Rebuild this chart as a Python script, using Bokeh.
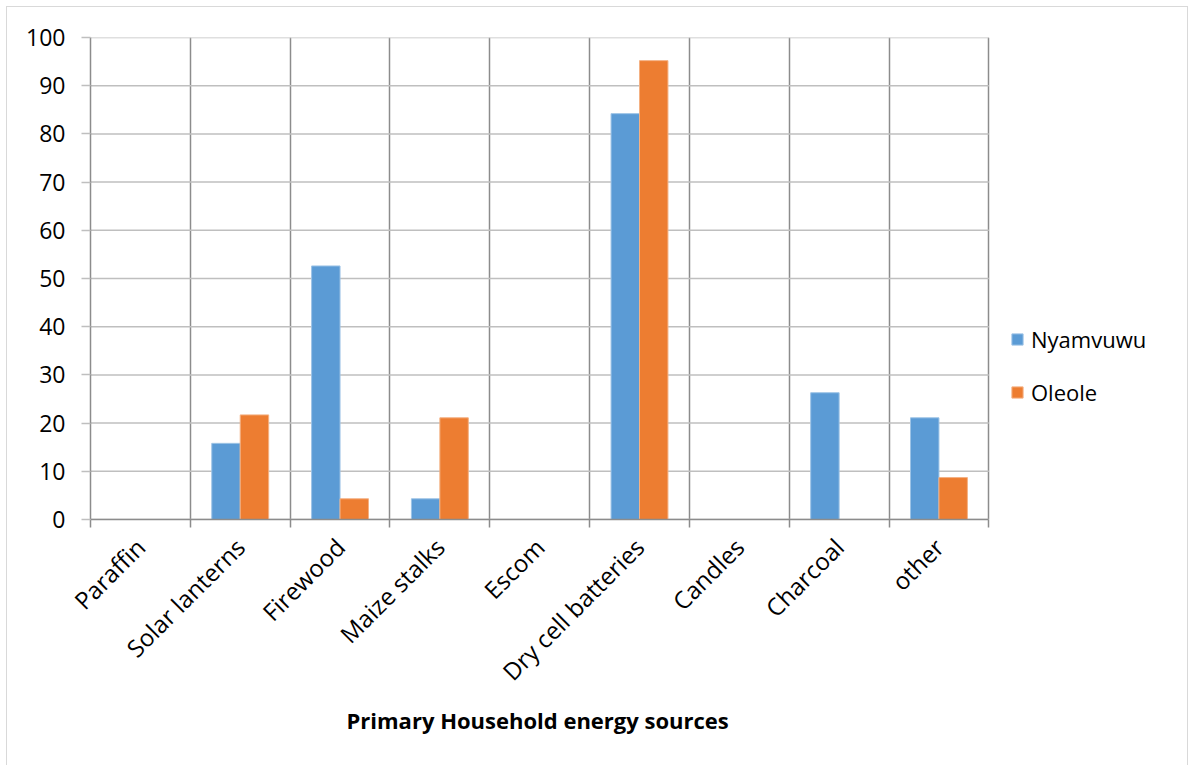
import math
from bokeh.plotting import figure
from bokeh.models import (ColumnDataSource, FixedTicker, Legend, LegendItem,
                          Range1d, Title)
from bokeh.embed import file_html
from bokeh.resources import INLINE

# Primary household energy sources (%) by village
categories = ["Paraffin", "Solar lanterns", "Firewood", "Maize stalks", "Escom",
              "Dry cell batteries", "Candles", "Charcoal", "other"]
nyamvuwu = [0, 15.8, 52.6, 4.3, 0, 84.2, 0, 26.3, 21.1]
oleole = [0, 21.7, 4.3, 21.1, 0, 95.2, 0, 0, 8.7]
y_ticks = [0, 10, 20, 30, 40, 50, 60, 70, 80, 90, 100]

BLUE = "#5B9BD5"
ORANGE = "#ED7D31"
FONT = "Open Sans"
GRID_H = "#BFBFBF"
GRID_V = "#8C8C8C"

n = len(categories)
centers = [i + 0.5 for i in range(n)]
bounds = [float(i) for i in range(n + 1)]
bar_w = 0.285
off = bar_w / 2

src = ColumnDataSource(dict(
    x_n=[c - off for c in centers],
    x_o=[c + off for c in centers],
    nyamvuwu=nyamvuwu,
    oleole=oleole,
))

# the frame continues to the right so the legend can sit beside the bars
p = figure(width=1182, height=759, output_backend="svg", toolbar_location=None,
           x_range=Range1d(0, 11.0), y_range=Range1d(0, 100),
           min_border_left=83, min_border_right=1, min_border_top=30,
           min_border_bottom=247)
p.margin = (6, 0, 0, 6)
p.styles = {"border-top": "1px solid #D9D9D9", "border-left": "1px solid #D9D9D9",
            "border-right": "1px solid #D9D9D9", "box-sizing": "border-box"}
p.outline_line_color = None
p.background_fill_color = "white"
p.border_fill_color = "white"

# horizontal grid lines only across the category area
p.segment(x0=[bounds[0]] * len(y_ticks), x1=[bounds[-1]] * len(y_ticks),
          y0=y_ticks, y1=y_ticks, line_color=GRID_H, line_width=1.5)

r_n = p.vbar(x="x_n", top="nyamvuwu", width=bar_w, source=src, fill_color=BLUE,
             line_color="#9DC3E6", line_width=1)
r_o = p.vbar(x="x_o", top="oleole", width=bar_w, source=src, fill_color=ORANGE,
             line_color="#F4B183", line_width=1)

# x axis: labels at category centres, tick marks at category boundaries
xa = p.xaxis[0]
xa.bounds = (bounds[0], bounds[-1])
xa.ticker = FixedTicker(ticks=centers, minor_ticks=bounds)
xa.major_label_overrides = {c: lab for c, lab in zip(centers, categories)}
xa.major_label_orientation = math.pi / 4
xa.major_label_text_font = FONT
xa.major_label_text_font_size = "24px"
xa.major_label_text_color = "black"
xa.major_label_standoff = 15
xa.major_tick_out = 0
xa.major_tick_in = 0
xa.minor_tick_out = 8
xa.minor_tick_in = 0
xa.minor_tick_line_color = GRID_V
xa.minor_tick_line_width = 1.5
xa.axis_line_color = GRID_V
xa.axis_line_width = 1.5

# axis title centred under the category area
p.add_layout(Title(text="Primary Household energy sources", align="left",
                   offset=256, standoff=2, text_font=FONT, text_font_size="22px",
                   text_font_style="bold", text_color="black"), "below")

ya = p.yaxis[0]
ya.ticker = FixedTicker(ticks=y_ticks)
ya.major_label_text_font = FONT
ya.major_label_text_font_size = "23px"
ya.major_label_text_color = "black"
ya.major_label_standoff = 16
ya.major_tick_out = 9
ya.major_tick_in = 0
ya.major_tick_line_color = GRID_H
ya.major_tick_line_width = 1.5
ya.minor_tick_line_color = None
ya.axis_line_color = GRID_V
ya.axis_line_width = 1.5

p.xgrid.ticker = FixedTicker(ticks=bounds)
p.xgrid.grid_line_color = GRID_V
p.xgrid.grid_line_width = 1.5
p.ygrid.grid_line_color = None

legend = Legend(items=[LegendItem(label="Nyamvuwu", renderers=[r_n]),
                       LegendItem(label="Oleole", renderers=[r_o])],
                location=(920, 112), orientation="vertical")
legend.label_text_font = FONT
legend.label_text_font_size = "22px"
legend.label_text_color = "black"
legend.glyph_width = 14
legend.glyph_height = 14
legend.label_standoff = 7
legend.spacing = 23
legend.padding = 0
legend.margin = 0
legend.border_line_color = None
legend.background_fill_alpha = 0
p.add_layout(legend, "center")

open("out.html", "w").write(file_html(p, INLINE))
